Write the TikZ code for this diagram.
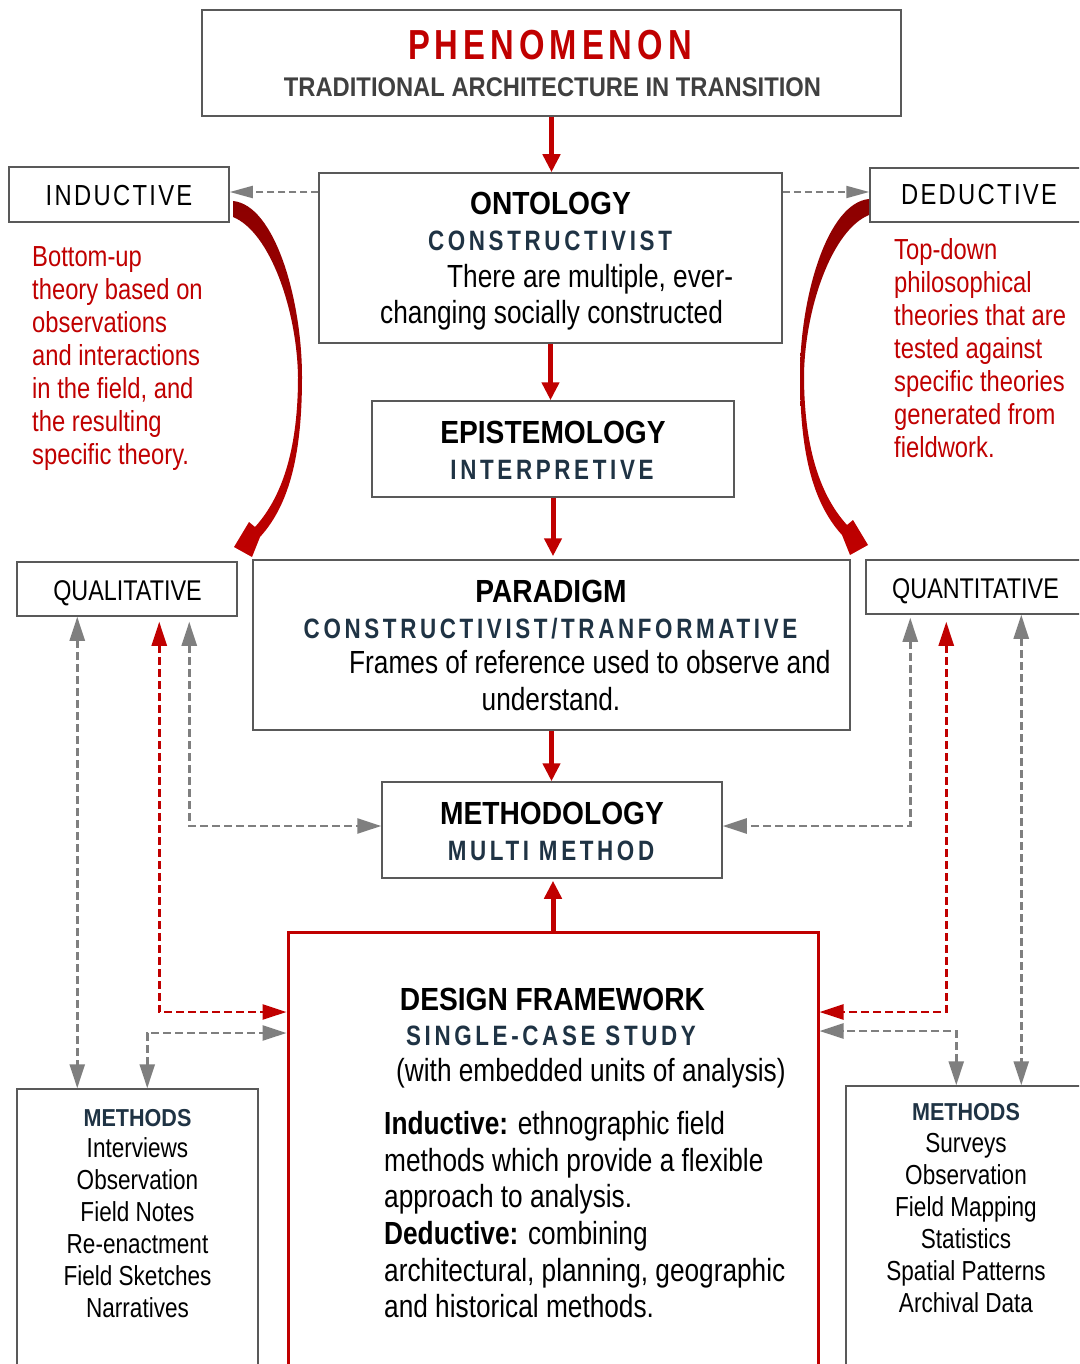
\documentclass[tikz,border=0pt]{standalone}
\usepackage{fontspec}
\setmainfont{Liberation Sans}[FakeStretch=0.82]
\newfontfamily\headfont{Liberation Sans}[FakeStretch=0.88]
\newfontfamily\capsfont{Liberation Sans}[FakeStretch=0.8, LetterSpace=13]
\newfontfamily\bannerfont{Liberation Sans}[FakeStretch=0.78, LetterSpace=12]
\newfontfamily\tagfont{Liberation Sans}[FakeStretch=0.82, LetterSpace=8]
\usetikzlibrary{arrows.meta}

\definecolor{cred}{HTML}{C00000}
\definecolor{cdark}{HTML}{8C0000}
\definecolor{cnavy}{HTML}{1F3344}
\definecolor{cgray}{HTML}{7F7F7F}
\definecolor{cbord}{HTML}{595959}
\definecolor{csub}{HTML}{404040}

\newcommand\fsz[1]{\fontsize{#1}{#1}\selectfont}

\begin{document}
\begin{tikzpicture}[x=1pt, y=-1pt,
  box/.style={draw=cbord, line width=1.5pt, rectangle, inner sep=0pt},
  redbox/.style={draw=cred, line width=3pt, rectangle, inner sep=0pt},
  txt/.style={inner sep=0pt, anchor=base},
  ltxt/.style={inner sep=0pt, anchor=base west},
  title/.style={txt, font=\headfont\bfseries\fsz{32}},
  caps/.style={txt, font=\capsfont\bfseries\fsz{28}, text=cnavy},
  body/.style={ltxt, font=\fsz{32}},
  note/.style={ltxt, font=\fsz{29}, text=cred},
  item/.style={txt, font=\fsz{27.5}},
  flow/.style={draw=cred, line width=5pt, -{Triangle[length=18pt,width=17pt]}},
  gdash/.style={draw=cgray, line width=2.5pt, dash pattern=on 8pt off 4pt,
    >={Triangle[length=24pt,width=15pt]}, <->},
  rdash/.style={gdash, draw=cred},
  thin dash/.style={draw=cgray, line width=2pt, dash pattern=on 7pt off 4pt,
    -{Triangle[length=23pt,width=12pt]}},
  bendarrow/.pic={
    \shade[top color=cdark, bottom color=cred]
      (233,201) .. controls (275,205) and (302,300) .. (302,377)
      .. controls (302,450) and (291,503) .. (260,537)
      -- (252,557) -- (234,547) -- (249,522) -- (255,527)
      .. controls (284,495) and (298,445) .. (298,377)
      .. controls (297,310) and (270,232) .. (233,217) -- cycle;
  }
]
\useasboundingbox (0,0) rectangle (1079,1364);
\fill[white] (0,0) rectangle (1079,1364);
\clip (0,0) rectangle (1079,1364);

% ---------- boxes ----------
\node[box, minimum width=699pt, minimum height=106pt] (phen)  at (551.5,63)   {};
\node[box, minimum width=463pt, minimum height=170pt] (onto)  at (550.5,258)  {};
\node[box, minimum width=220pt, minimum height=55pt]  (induc) at (119,194.5)  {};
\node[box, minimum width=215pt, minimum height=54pt]  (deduc) at (977.5,195)  {};
\node[box, minimum width=362pt, minimum height=96pt]  (epis)  at (553,449)    {};
\node[box, minimum width=220pt, minimum height=54pt]  (qual)  at (127,589)    {};
\node[box, minimum width=597pt, minimum height=170pt] (para)  at (551.5,645)  {};
\node[box, minimum width=219pt, minimum height=54pt]  (quant) at (975.5,587)  {};
\node[box, minimum width=340pt, minimum height=96pt]  (meth)  at (552,830)    {};
\node[redbox, minimum width=530pt, minimum height=443pt] (design) at (553,1153.5) {};
\node[box, minimum width=241pt, minimum height=286pt] (mleft)  at (137.5,1232) {};
\node[box, minimum width=244pt, minimum height=289pt] (mright) at (968,1230.5) {};

% ---------- texts ----------
\node[txt, font=\bannerfont\bfseries\fsz{42}, text=cred] (tphen) at (550,60) {PHENOMENON};
\node[txt, font=\headfont\bfseries\fsz{27}, text=csub] (tsub) at (552.5,97) {TRADITIONAL ARCHITECTURE IN TRANSITION};

\node[txt, font=\tagfont\fsz{29}] (tinduc) at (119,206) {INDUCTIVE};
\node[txt, font=\tagfont\fsz{29}] (tdeduc) at (979,205) {DEDUCTIVE};

\node[title] (tonto) at (550.5,215) {ONTOLOGY};
\node[caps]  (conto) at (550,251) {CONSTRUCTIVIST};
\node[body]  (onto1) at (447,287) {There are multiple, ever-};
\node[body]  (onto2) at (380,323) {changing socially constructed};

\foreach \s [count=\k] in {Bottom-up, theory based on, observations, and interactions, {in the field, and}, the resulting, specific theory.}
  \node[note] (ln\k) at (32,{266+33*(\k-1)}) {\s};
\foreach \s [count=\k] in {Top-down, philosophical, theories that are, tested against, specific theories, generated from, fieldwork.}
  \node[note] (rn\k) at (894,{259+33*(\k-1)}) {\s};

\node[title] (tepis) at (553,443) {EPISTEMOLOGY};
\node[caps]  (cepis) at (552,479) {INTERPRETIVE};

\node[txt, font=\fsz{28.5}] (tqual)  at (127.5,600) {QUALITATIVE};
\node[txt, font=\fsz{28.5}] (tquant) at (975.5,598) {QUANTITATIVE};

\node[title] (tpara) at (551,602) {PARADIGM};
\node[caps]  (cpara) at (550.5,638) {CONSTRUCTIVIST/TRANFORMATIVE};
\node[body]  (para1) at (349,673) {Frames of reference used to observe and};
\node[txt, font=\fsz{32}] (para2) at (551,710) {understand.};

\node[title] (tmeth) at (552,824) {METHODOLOGY};
\node[caps]  (cmeth) at (551,860) {MULTI METHOD};

\node[title] (tdes) at (552.5,1010) {DESIGN FRAMEWORK};
\node[caps]  (cdes) at (551,1045) {SINGLE-CASE STUDY};
\node[body]  (des0) at (396,1081) {(with embedded units of analysis)};
\node[body]  (des1) at (384,1134) {\textbf{Inductive:} ethnographic field};
\node[body]  (des2) at (384,1171) {methods which provide a flexible};
\node[body]  (des3) at (384,1207) {approach to analysis.};
\node[body]  (des4) at (384,1244) {\textbf{Deductive:} combining};
\node[body]  (des5) at (384,1281) {architectural, planning, geographic};
\node[body]  (des6) at (384,1317) {and historical methods.};

\node[txt, font=\headfont\bfseries\fsz{24.5}, text=cnavy] (tml) at (137.5,1126) {METHODS};
\foreach \s [count=\k] in {Interviews, Observation, Field Notes, Re-enactment, Field Sketches, Narratives}
  \node[item] (ml\k) at (137.5,{1157+32*(\k-1)}) {\s};
\node[txt, font=\headfont\bfseries\fsz{24.5}, text=cnavy] (tmr) at (966,1120) {METHODS};
\foreach \s [count=\k] in {Surveys, Observation, Field Mapping, Statistics, Spatial Patterns, Archival Data}
  \node[item] (mr\k) at (966,{1152+32*(\k-1)}) {\s};

% ---------- main flow ----------
\draw[flow] (phen.south) -- (phen.south |- onto.north);
\draw[flow] (onto.south) -- (onto.south |- epis.north);
\draw[flow] (epis.south) -- ([yshift=3pt]epis.south |- para.north);
\draw[flow] (para.south) -- (para.south |- meth.north);
\draw[flow] (design.north) -- ([yshift=-2pt]design.north |- meth.south);

% ---------- reasoning links ----------
\coordinate (yTag) at (0,192);
\draw[thin dash] (onto.west |- yTag) -- (induc.east |- yTag);
\draw[thin dash] (onto.east |- yTag) -- (deduc.west |- yTag);
\pic at (0,0) {bendarrow};
\pic[xscale=-1] at (1102,-2) {bendarrow};

% ---------- method links ----------
\coordinate (yMeth) at (0,826);
\coordinate (yRed)  at (0,1012);
\coordinate (yGrayL) at (0,1033);
\coordinate (yGrayR) at (0,1031);

\draw[gdash] ([xshift=61pt]qual.south west) -- ([xshift=61pt]mleft.north west);
\draw[rdash, shorten <=5pt] ([xshift=143pt]qual.south west) |- (design.west |- yRed);
\draw[gdash, shorten <=5pt] ([xshift=173pt]qual.south west) |- (meth.west |- yMeth);
\draw[gdash] ([xshift=131pt]mleft.north west) |- (design.west |- yGrayL);

\draw[gdash, shorten <=3pt] ([xshift=45pt]quant.south west) |- (meth.east |- yMeth);
\draw[rdash, shorten <=7pt] ([xshift=81pt]quant.south west) |- (design.east |- yRed);
\draw[gdash] ([xshift=156pt]quant.south west) -- ([xshift=176pt]mright.north west);
\draw[gdash] ([xshift=111pt]mright.north west) |- (design.east |- yGrayR);
\end{tikzpicture}
\end{document}
